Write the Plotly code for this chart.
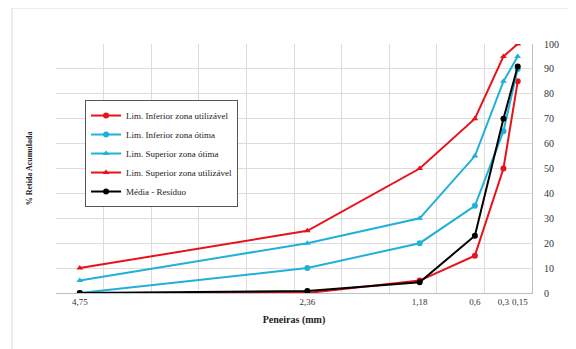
import plotly.graph_objects as go

# Sieve openings (mm) and their labels
sieve_mm = [4.75, 2.36, 1.18, 0.6, 0.3, 0.15]
sieve_labels = ["4,75", "2,36", "1,18", "0,6", "0,3", "\u00a0\u00a00,15"]

lim_inf_util = [0, 0, 5, 15, 50, 85]
lim_inf_otima = [0, 10, 20, 35, 65, 90]
lim_sup_otima = [5, 20, 30, 55, 85, 95]
lim_sup_util = [10, 25, 50, 70, 95, 100]
media_residuo = [0, 0.8, 4.3, 23, 70, 91]

RED = "#e8121c"
CYAN = "#21b0d8"
FONT = "Liberation Serif"

series = [
    ("Lim. Inferior zona utilizável", lim_inf_util, RED, "circle"),
    ("Lim. Inferior zona ótima", lim_inf_otima, CYAN, "circle"),
    ("Lim. Superior zona ótima", lim_sup_otima, CYAN, "triangle-up"),
    ("Lim. Superior zona utilizável", lim_sup_util, RED, "triangle-up"),
    ("Média - Resíduo", media_residuo, "black", "circle"),
]

fig = go.Figure()
for name, vals, color, sym in series:
    fig.add_trace(go.Scatter(
        x=sieve_mm, y=vals, name=name, mode="lines+markers",
        line=dict(color=color, width=2),
        marker=dict(color=color, size=6, symbol=sym),
    ))

fig.update_layout(
    width=576, height=349,
    margin=dict(l=48, r=52, t=36, b=64, autoexpand=False),
    paper_bgcolor="white", plot_bgcolor="white",
    font=dict(family=FONT, size=10, color="#333333"),
    showlegend=True,
    legend=dict(
        x=0.061, y=0.775, xanchor="left", yanchor="top",
        bgcolor="white", bordercolor="#555555", borderwidth=1,
        font=dict(family=FONT, size=9, color="#222222"),
        tracegroupgap=0, itemwidth=30,
    ),
    xaxis=dict(
        range=[5, 0], tickmode="array", tickvals=sieve_mm, ticktext=sieve_labels,
        tickangle=0, automargin=False,
        showgrid=False, zeroline=False, showline=True, linecolor="#bfbfbf",
        ticks="", tickfont=dict(family=FONT, size=9, color="#333333"),
        minor=dict(tickmode="linear", tick0=0, dtick=0.5, showgrid=True,
                   gridcolor="#dcdcdc", gridwidth=1, ticks=""),
        title=dict(text="<b>Peneiras (mm)</b>", standoff=10,
                   font=dict(family=FONT, size=10, color="#222222")),
        fixedrange=True,
    ),
    yaxis=dict(
        range=[0, 100], dtick=10, side="right", showgrid=True, automargin=False,
        gridcolor="#dcdcdc", zeroline=False, showline=True, linecolor="#bfbfbf",
        ticks="", ticklabelstandoff=9,
        tickfont=dict(family=FONT, size=10, color="#333333"),
        fixedrange=True,
    ),
    annotations=[dict(
        text="<b>% Retida Acumulada</b>", xref="paper", yref="paper",
        x=-0.055, y=0.5, xanchor="center", yanchor="middle", textangle=-90,
        showarrow=False, font=dict(family=FONT, size=8, color="#222222"),
    )],
    shapes=[dict(
        type="rect", xref="paper", yref="paper", layer="below",
        x0=-0.0924, x1=1.2, y0=-0.3, y1=1.1446,
        line=dict(color="#d9d9d9", width=1),
    )],
)

fig.write_html("out.html")
